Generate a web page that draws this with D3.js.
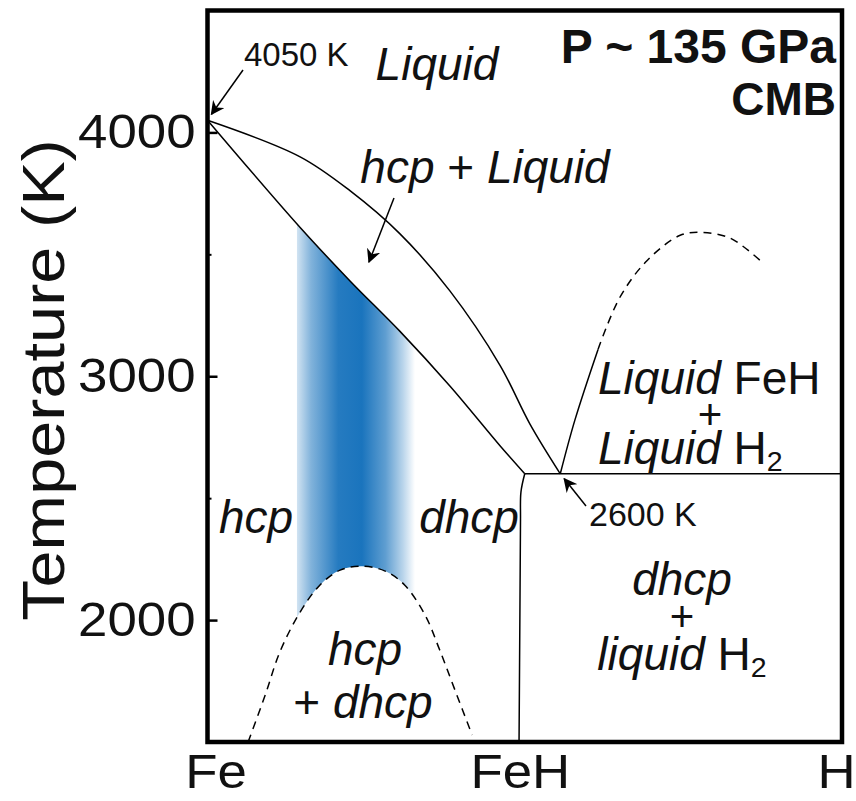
<!DOCTYPE html>
<html>
<head>
<meta charset="utf-8">
<script src="https://cdn.jsdelivr.net/npm/d3@7"></script>
<style>
  html, body { margin: 0; padding: 0; background: #fff; }
  svg { display: block; font-family: "Liberation Sans", Arial, sans-serif; }
</style>
</head>
<body>
<svg id="chart" width="856" height="801"></svg>
<script>
// Fe–H phase diagram at ~135 GPa (core–mantle boundary)
// x: hydrogen fraction H/(Fe+H), y: temperature in K

const compTicks = [0, 0.5, 1];
const compLabels = ["Fe", "FeH", "H"];
const tempTicks = [2000, 3000, 4000];
const tempMinorTicks = [2500, 3500];

// liquidus of hcp Fe (Fe melting point down to the eutectic)
const liquidus = [
  [0.000, 4050], [0.146, 3900], [0.225, 3760],
  [0.303, 3585], [0.382, 3350], [0.461, 3045], [0.508, 2805], [0.556, 2600]
];
// solidus of hcp Fe
const solidus = [
  [0.000, 4050], [0.146, 3610], [0.225, 3390],
  [0.303, 3185], [0.382, 2960], [0.461, 2715], [0.500, 2600]
];
// hcp + dhcp miscibility gap (dashed)
const hcpDhcpGap = [
  [0.064, 1500], [0.091, 1693], [0.114, 1869], [0.146, 2033], [0.177, 2143],
  [0.209, 2205], [0.244, 2221], [0.280, 2201], [0.311, 2143], [0.343, 2020],
  [0.366, 1877], [0.390, 1713], [0.417, 1529]
];
// FeH–H2 liquid immiscibility: measured part (solid) and extrapolation (dashed)
const liquidGapSolid = [[0.556, 2600], [0.579, 2820], [0.6155, 3110]];
const liquidGapDashed = [
  [0.6155, 3110], [0.650, 3324], [0.693, 3475], [0.745, 3578],
  [0.779, 3590], [0.824, 3566], [0.871, 3475]
];
// dhcp FeH stability boundary
const fehBoundary = [[0.500, 2600], [0.494, 2525], [0.4933, 2410], [0.4925, 2082], [0.491, 1500]];
// eutectic line
const eutecticLine = [[0.500, 2600], [1.000, 2600]];
// compositional range of the highlighted band
const bandRange = [0.141, 0.327];

const svg = d3.select("#chart");
const margin = { left: 207.5, right: 14, top: 10.5, bottom: 59 };
const W = 856, H = 801;
const FONT = "Liberation Sans, Arial, sans-serif";

const x = d3.scaleLinear().domain([0, 1]).range([margin.left, W - margin.right]);
const y = d3.scaleLinear().domain([1500, 4500]).range([H - margin.bottom, margin.top]);

const defs = svg.append("defs");

// horizontal blue gradient for the band
const grad = defs.append("linearGradient").attr("id", "bandGrad")
  .attr("x1", "0%").attr("x2", "100%").attr("y1", "0%").attr("y2", "0%");
[[0, 0.2], [0.12, 0.55], [0.35, 0.95], [0.55, 1], [0.75, 0.7], [0.9, 0.3], [1, 0]].forEach(([o, a]) => {
  grad.append("stop").attr("offset", o * 100 + "%").attr("stop-color", "#1a74bd").attr("stop-opacity", a);
});

const line = d3.line().x(d => x(d[0])).y(d => y(d[1])).curve(d3.curveCatmullRom.alpha(0.5));

// clip: region below the solidus
defs.append("clipPath").attr("id", "solidusClip")
  .append("path")
  .attr("d", line(solidus) + `L${x(0.5)},${y(1500)}L${x(0)},${y(1500)}Z`);

svg.append("rect")
  .attr("x", x(bandRange[0])).attr("width", x(bandRange[1]) - x(bandRange[0]))
  .attr("y", y(4500)).attr("height", y(1500) - y(4500))
  .attr("fill", "url(#bandGrad)")
  .attr("clip-path", "url(#solidusClip)");

// white interior of the hcp + dhcp gap
const gapEnd = hcpDhcpGap[hcpDhcpGap.length - 1];
svg.append("path")
  .attr("d", line(hcpDhcpGap) + `L${x(gapEnd[0])},${y(1500) + 3}L${x(hcpDhcpGap[0][0])},${y(1500) + 3}Z`)
  .attr("fill", "#fff");

// phase boundaries
const solid = [liquidus, solidus, liquidGapSolid, fehBoundary, eutecticLine];
svg.append("g").selectAll("path").data(solid).join("path")
  .attr("d", line).attr("fill", "none").attr("stroke", "#000").attr("stroke-width", 1.5);

svg.append("g").selectAll("path").data([hcpDhcpGap, liquidGapDashed]).join("path")
  .attr("d", line).attr("fill", "none").attr("stroke", "#000")
  .attr("stroke-width", 1.5).attr("stroke-dasharray", "8,6");

// axes
const sx = 1.1; // slightly wide lettering for axis labels
const yAxis = d3.axisLeft(y).tickValues(tempTicks).tickSizeInner(-10).tickSizeOuter(0).tickPadding(0)
  .tickFormat(d3.format("d"));
const yg = svg.append("g").attr("transform", `translate(${margin.left},0)`).call(yAxis);
yg.select(".domain").remove();
yg.selectAll(".tick line").attr("stroke-width", 2.5);
yg.selectAll(".tick text")
  .attr("x", -12 / sx).attr("transform", `scale(${sx},1)`)
  .attr("font-size", 48).attr("font-family", FONT).attr("fill", "#111");

const yMinor = d3.axisLeft(y).tickValues(tempMinorTicks).tickSizeInner(-4).tickSizeOuter(0).tickFormat("");
const ym = svg.append("g").attr("transform", `translate(${margin.left},0)`).call(yMinor);
ym.select(".domain").remove();
ym.selectAll(".tick line").attr("stroke-width", 2);

const xAxis = d3.axisBottom(x).tickValues(compTicks).tickSize(0).tickPadding(12)
  .tickFormat((d, i) => compLabels[i]);
const xg = svg.append("g").attr("transform", `translate(0,${y(1500)})`).call(xAxis);
xg.select(".domain").remove();
xg.selectAll(".tick text")
  .attr("transform", `scale(${sx},1)`)
  .attr("font-size", 48).attr("font-family", FONT).attr("fill", "#111");
// the end labels sit a little inward of the frame corners
xg.selectAll(".tick").filter(d => d === 0).select("text").attr("x", 8 / sx);
xg.selectAll(".tick").filter(d => d === 0.5).select("text").attr("x", -5 / sx);
xg.selectAll(".tick").filter(d => d === 1).select("text").attr("x", -6 / sx);

// frame
svg.append("rect")
  .attr("x", x(0)).attr("y", y(4500))
  .attr("width", x(1) - x(0)).attr("height", y(1500) - y(4500))
  .attr("fill", "none").attr("stroke", "#000").attr("stroke-width", 4.5);

// axis title
svg.append("text")
  .attr("transform", `translate(64,380) rotate(-90) scale(1.13,1)`)
  .attr("text-anchor", "middle").attr("font-size", 59).attr("fill", "#111")
  .text("Temperature (K)");

// labels
function label(px, py, parts, opts = {}) {
  const t = svg.append("text").attr("x", px).attr("y", py)
    .attr("text-anchor", opts.anchor || "middle")
    .attr("font-size", opts.size || 46).attr("fill", "#111")
    .attr("font-weight", opts.bold ? "bold" : null);
  parts.forEach(p => {
    if (typeof p === "string") { t.append("tspan").text(p); return; }
    const s = t.append("tspan").text(p.t);
    if (p.i) s.attr("font-style", "italic");
    if (p.sub) s.attr("font-size", "62%").attr("dy", 7);
  });
  return t;
}

label(836, 63, ["P ~ 135 GPa"], { anchor: "end", bold: true, size: 48 });
label(836, 115, ["CMB"], { anchor: "end", bold: true, size: 46 });
label(437, 80, [{ t: "Liquid", i: true }]);
label(485, 183, [{ t: "hcp", i: true }, " + ", { t: "Liquid", i: true }]);
label(256, 533, [{ t: "hcp", i: true }]);
label(469, 533, [{ t: "dhcp", i: true }]);
label(365, 665, [{ t: "hcp", i: true }]);
label(363, 718, ["+ ", { t: "dhcp", i: true }]);
label(598, 394, [{ t: "Liquid", i: true }, " FeH"], { anchor: "start" });
label(710, 429, ["+"], { size: 42 });
label(598, 464, [{ t: "Liquid", i: true }, " H", { t: "2", sub: true }], { anchor: "start" });
label(682, 595, [{ t: "dhcp", i: true }]);
label(682, 631, ["+"], { size: 42 });
label(682, 670, [{ t: "liquid", i: true }, " H", { t: "2", sub: true }]);
label(244, 66, ["4050 K"], { anchor: "start", size: 33 });
label(589, 526, ["2600 K"], { anchor: "start", size: 34 });

// annotation arrows
defs.append("marker").attr("id", "arrowHead")
  .attr("viewBox", "0 0 10 10").attr("refX", 9).attr("refY", 5)
  .attr("markerWidth", 14).attr("markerHeight", 14).attr("markerUnits", "userSpaceOnUse")
  .attr("orient", "auto")
  .append("path").attr("d", "M0,0L10,5L0,10L3,5Z").attr("fill", "#000");

const arrows = [
  { from: [243, 70], to: [x(0) + 4, y(4050) - 6] },
  { from: [394, 198], to: [369, 262] },
  { from: [586, 506], to: [x(0.556) + 4, y(2600) + 5] }
];
svg.append("g").selectAll("line").data(arrows).join("line")
  .attr("x1", d => d.from[0]).attr("y1", d => d.from[1])
  .attr("x2", d => d.to[0]).attr("y2", d => d.to[1])
  .attr("stroke", "#000").attr("stroke-width", 1.5)
  .attr("marker-end", "url(#arrowHead)");
</script>
</body>
</html>
